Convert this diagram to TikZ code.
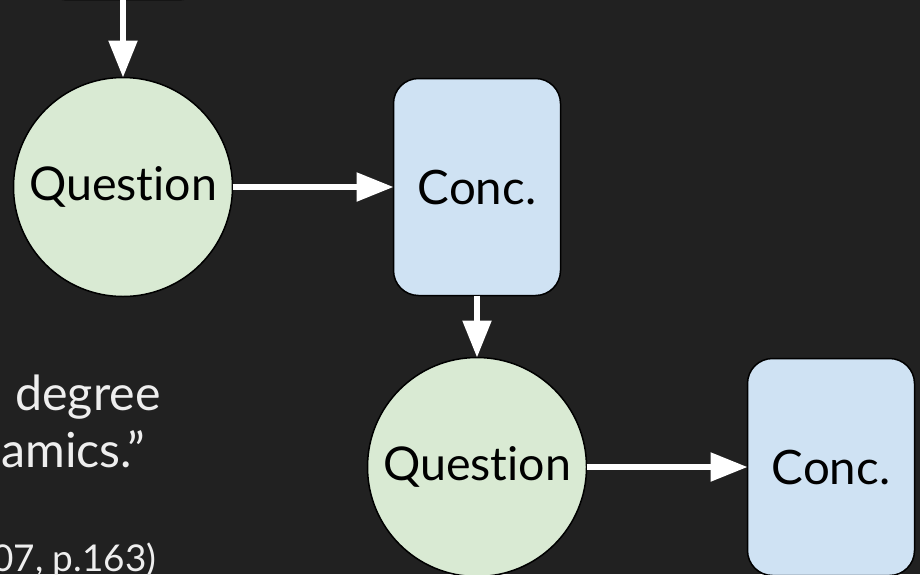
\documentclass[tikz,border=0pt]{standalone}
\usepackage{fontspec}
\setmainfont{Lato}[Ligatures=NoCommon]
\usepackage{tikz}
\usetikzlibrary{arrows.meta,positioning}
\definecolor{bgdark}{HTML}{212121}
\definecolor{qgreen}{HTML}{D9EAD3}
\definecolor{cblue}{HTML}{CFE2F3}
\definecolor{quotetext}{HTML}{EEEEEE}

\begin{document}
\begin{tikzpicture}[
    question/.style={circle, draw=black, line width=0.03cm, fill=qgreen, minimum size=4.38cm, inner sep=0pt, outer sep=0pt, font=\fontsize{26.5}{30}\selectfont},
    conc/.style={rectangle, draw=black, line width=0.03cm, fill=cblue, rounded corners=0.5cm, minimum width=3.34cm, minimum height=4.34cm, inner sep=0pt, outer sep=0pt, font=\fontsize{27}{30}\selectfont},
    arrow/.style={-{Triangle[length=0.74cm,width=0.56cm]}, line width=0.11cm, draw=white},
    quote/.style={text=quotetext, inner sep=0pt, anchor=base west, font=\fontsize{27.5}{30}\selectfont},
    cite/.style={text=quotetext, inner sep=0pt, anchor=base west, font=\fontsize{21}{24}\selectfont}
]

\fill[bgdark] (0,0) rectangle (18.4,-11.48);
\useasboundingbox (0,0) rectangle (18.4,-11.48);

% chain of questions and conclusions
\node[question] (q1) at (2.46,-3.74) {Question};
\node[conc, above=1.56cm of q1] (c1) {};
\node[conc, right=3.22cm of q1] (c2) {Conc.};
\node[question, below=1.24cm of c2] (q2) {Question};
\node[conc, right=3.22cm of q2] (c3) {Conc.};

\draw[arrow] (c1) -- (q1);
\draw[arrow] (q1) -- (c2);
\draw[arrow] (c2) -- (q2);
\draw[arrow] (q2) -- (c3);

% quotation, cut off at the left edge
\node[quote] (line1) at (0.30,-8.20) {degree};
\node[quote] (line2) at (0.02,-9.34) {amics.”};
\node[cite] (source) at (-0.16,-11.42) {07, p.163)};

\end{tikzpicture}
\end{document}
